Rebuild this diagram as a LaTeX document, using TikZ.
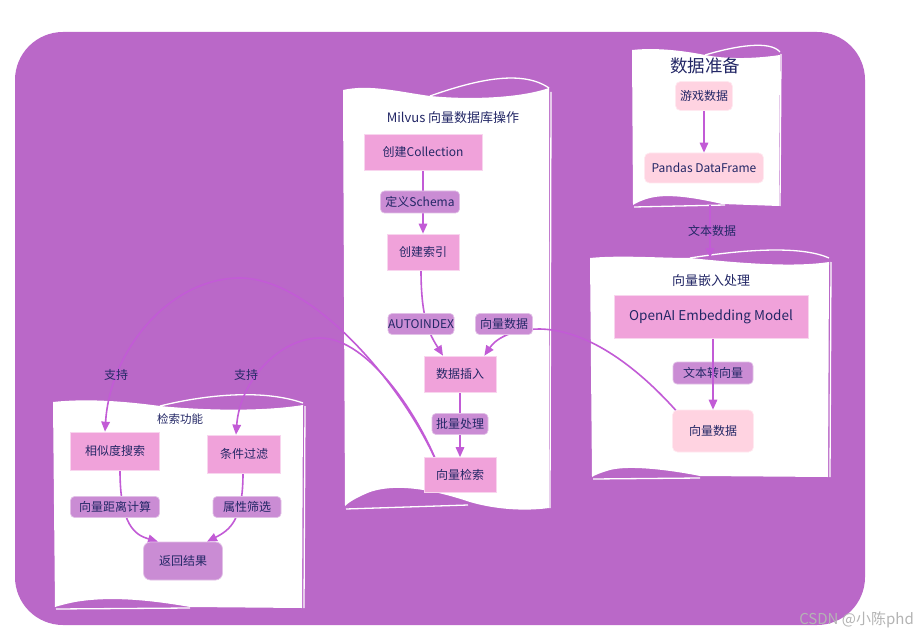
\documentclass[tikz,border=0pt]{standalone}
\usepackage{fontspec}
\setmainfont{Noto Sans CJK SC}
\usetikzlibrary{arrows.meta}
\definecolor{bgpurple}{HTML}{BA68C8}
\definecolor{nodepink}{HTML}{F0A2DA}
\definecolor{lblpurple}{HTML}{CA8CD4}
\definecolor{lightpink}{HTML}{FFD3E1}
\definecolor{txt}{HTML}{232766}
\definecolor{arrowc}{HTML}{C25BD6}
\definecolor{wmark}{HTML}{B4B4B4}
\pgfdeclarelayer{panels}
\pgfdeclarelayer{edges}
\pgfdeclarelayer{toplayer}
\pgfsetlayers{panels,edges,main,toplayer}
\tikzset{
  base/.style={text=txt, font=\fontsize{12}{14}\selectfont, inner sep=0pt, align=center},
  pinkbox/.style={base, fill=nodepink, draw=white!55!nodepink, line width=0.7pt},
  lightbox/.style={base, fill=lightpink, draw=white!50!lightpink, line width=0.7pt, rounded corners=5pt},
  lblbox/.style={base, fill=lblpurple, draw=white!45!lblpurple, line width=0.7pt, rounded corners=4pt},
  retbox/.style={base, fill=lblpurple, draw=white!45!lblpurple, line width=0.7pt, rounded corners=7pt},
  plainlbl/.style={base},
  paneltitle/.style={base, font=\fontsize{13}{15}\selectfont},
  conn/.style={draw=arrowc, line width=1.6pt, -{Triangle[length=10pt,width=8.5pt]}},
  panelfill/.style={fill=white},
  panelline/.style={draw=white, line width=1.3pt},
}
\begin{document}
\begin{tikzpicture}[x=1pt,y=-1pt]
\useasboundingbox (0,0) rectangle (917,636);
\begin{pgfonlayer}{panels}
\fill[white] (0,0) rectangle (917,636);
\fill[bgpurple, rounded corners=48pt] (15,32) rectangle (865,625);
% data preparation panel
\fill[panelfill] (632,50) .. controls (660,47) and (690,52) .. (705,55) .. controls (730,60) and (760,58) .. (780,55) -- (779,206) -- (722,204) .. controls (700,199) and (670,193) .. (650,198) .. controls (642,200) and (636,203) .. (633,205) -- cycle;
\draw[panelline] (705,55) .. controls (735,46) and (770,40) .. (780,52);
\draw[panelline] (634,207) -- (725,205);
\draw[panelline] (781,54) -- (780,206);
% Milvus panel
\fill[panelfill] (343,90) .. controls (370,84) and (400,92) .. (430,96) .. controls (470,100) and (520,98) .. (549,88) -- (549,508) .. controls (520,512) and (490,508) .. (470,502) .. controls (440,492) and (400,482) .. (370,492) .. controls (355,498) and (348,503) .. (345,506) -- cycle;
\draw[panelline] (430,96) .. controls (470,82) and (520,68) .. (549,88);
\draw[panelline] (346,509) -- (468,505);
\draw[panelline] (551,92) -- (550,508);
% embedding panel
\fill[panelfill] (590,258) .. controls (620,255) and (660,258) .. (690,258) .. controls (730,262) and (790,268) .. (829,262) -- (828,477) -- (700,476) .. controls (670,470) and (630,465) .. (610,470) .. controls (600,473) and (595,475) .. (592,477) -- cycle;
\draw[panelline] (690,258) .. controls (740,250) and (800,245) .. (829,258);
\draw[panelline] (593,479) -- (700,478);
\draw[panelline] (831,262) -- (830,477);
% retrieval panel
\fill[panelfill] (53,402) .. controls (90,398) and (130,402) .. (160,406) .. controls (200,410) and (260,412) .. (303,405) -- (302,608) -- (190,607) .. controls (150,600) and (110,596) .. (75,602) .. controls (65,604) and (58,606) .. (55,607) -- cycle;
\draw[panelline] (160,406) .. controls (200,396) and (260,388) .. (303,403);
\draw[panelline] (56,609) -- (190,608);
\draw[panelline] (305,406) -- (304,608);
\end{pgfonlayer}

% panel titles
\node[paneltitle, font=\fontsize{17.5}{20}\selectfont] (tprep) at (705,66) {数据准备};
\node[paneltitle] (tmilvus) at (453,118) {Milvus 向量数据库操作};
\node[paneltitle] (temb) at (711,281) {向量嵌入处理};
\node[paneltitle, font=\fontsize{11.5}{14}\selectfont] (tretr) at (180,419) {检索功能};

% data preparation
\node[lightbox, minimum width=57pt, minimum height=29pt] (game) at (704,96) {游戏数据};
\node[lightbox, minimum width=119pt, minimum height=30pt] (pandas) at (704,168) {Pandas DataFrame};
\coordinate (prepbot) at (710,205);
\coordinate (embtop) at (710,258);

% Milvus
\node[pinkbox, minimum width=118pt, minimum height=36pt] (coll) at (423,152) {创建Collection};
\node[lblbox, minimum width=79pt, minimum height=22pt] (schema) at (420,202) {定义Schema};
\node[pinkbox, minimum width=72pt, minimum height=36pt] (idx) at (423,252) {创建索引};
\node[lblbox, minimum width=66pt, minimum height=21pt] (autoidx) at (421,324) {AUTOINDEX};
\node[lblbox, minimum width=57pt, minimum height=21pt] (vdlbl) at (504,324) {向量数据};
\node[pinkbox, minimum width=72pt, minimum height=36pt] (insert) at (460,374) {数据插入};
\node[lblbox, minimum width=56pt, minimum height=21pt] (batch) at (460,424) {批量处理};
\node[pinkbox, minimum width=72pt, minimum height=35pt] (search) at (460,475) {向量检索};

% embedding
\node[pinkbox, font=\fontsize{13.5}{16}\selectfont, minimum width=194pt, minimum height=43pt] (openai) at (711,317) {OpenAI Embedding Model};
\node[lblbox, minimum width=80pt, minimum height=22pt] (t2v) at (713,373) {文本转向量};
\node[lightbox, minimum width=81pt, minimum height=42pt] (vdata) at (713,431) {向量数据};

% retrieval
\node[pinkbox, minimum width=89pt, minimum height=38pt] (sim) at (115,451) {相似度搜索};
\node[pinkbox, minimum width=73pt, minimum height=38pt] (filt) at (244,454) {条件过滤};
\node[lblbox, minimum width=89pt, minimum height=21pt] (dist) at (115,507) {向量距离计算};
\node[lblbox, minimum width=68pt, minimum height=21pt] (attr) at (247,507) {属性筛选};
\node[retbox, minimum width=79pt, minimum height=38pt] (ret) at (183,561) {返回结果};

% plain labels
\node[plainlbl] (ltext) at (712,231) {文本数据};
\node[plainlbl] (lsup1) at (116,375) {支持};
\node[plainlbl] (lsup2) at (246,375) {支持};

% watermark
\node[base, text=wmark, font=\fontsize{15}{17}\selectfont, anchor=east] (wm) at (914,620) {CSDN @小陈phd};

\begin{pgfonlayer}{edges}
\draw[conn] (game) -- (pandas);
\draw[conn] (prepbot) -- (embtop);
\draw[conn] (coll.south) -- (idx.north -| coll.south);
\draw[conn] (idx.south -| 421,0) .. controls (421,320) and (430,335) .. ([xshift=-17pt]insert.north);
\draw[conn] ([xshift=-36pt,yshift=-2pt]vdata.north) .. controls (640,370) and (590,330) .. (540,329) .. controls (510,329) and (495,340) .. ([xshift=-12pt]insert.north east);
\draw[conn] (insert) -- (search);
\draw[conn] ([xshift=13pt,yshift=-5pt]search.north west) .. controls (400,380) and (310,278) .. (240,278) .. controls (170,278) and (110,350) .. ([xshift=-10pt]sim.north);
\draw[conn] ([xshift=13pt,yshift=-5pt]search.north west) .. controls (420,420) and (370,338) .. (320,338) .. controls (280,338) and (240,380) .. ([xshift=-8pt]filt.north);
\draw[conn] ([xshift=5pt]sim.south) .. controls (120,525) and (135,535) .. ([xshift=-25pt]ret.north);
\draw[conn] ([xshift=-1pt]filt.south) .. controls (243,520) and (230,530) .. ([xshift=24pt]ret.north);
\end{pgfonlayer}
\begin{pgfonlayer}{toplayer}
\draw[conn] (openai.south -| vdata.north) -- (vdata.north);
\end{pgfonlayer}
\end{tikzpicture}
\end{document}
